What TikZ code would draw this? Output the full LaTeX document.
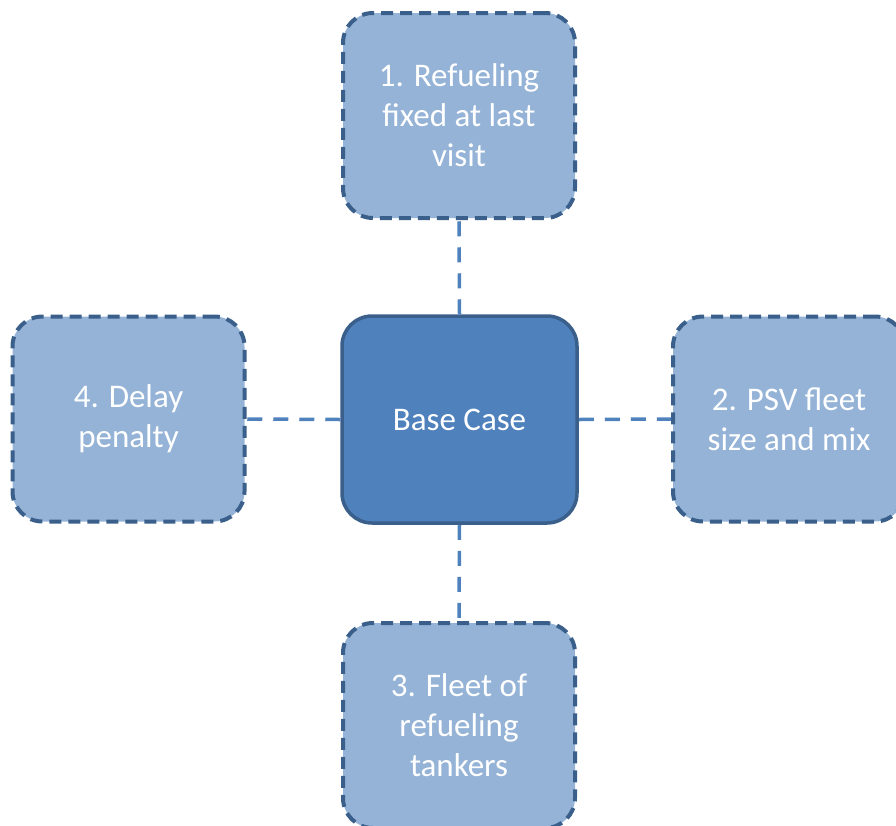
\documentclass[tikz,border=0pt]{standalone}
\usepackage{fontspec}
\setmainfont{Carlito}
\definecolor{scuro}{HTML}{3A5F8B}
\definecolor{medio}{HTML}{4F81BD}
\definecolor{chiaro}{HTML}{95B3D7}
\begin{document}
\begin{tikzpicture}[x=1pt,y=1pt,
        caso/.style={rounded corners=30pt, align=center, text=white, inner sep=0pt,
            font=\fontsize{33}{40}\selectfont},
        variante/.style={caso, fill=chiaro, draw=scuro, line width=4pt,
            dash pattern=on 12pt off 7pt, minimum width=232pt, minimum height=205pt},
        base/.style={caso, fill=medio, draw=scuro, line width=3.5pt,
            minimum width=235pt, minimum height=207pt},
        legame/.style={medio, line width=3.5pt, dash pattern=on 15pt off 11pt}]
        % Margini
        \useasboundingbox (0,0) rectangle (896,-825);
        
        % Caso base al centro
        \node[base] (basecase) at (459.5,-419.5) {Base Case};
        
        % Varianti attorno
        \node[variante] (refuel) at (459,-115.5) {1. Refueling\\fixed at last\\visit};
        \node[variante] (psv) at (789,-419) {2. PSV fleet\\size and mix};
        \node[variante] (tankers) at (459,-725.5) {3. Fleet of\\refueling\\tankers};
        \node[variante] (delay) at (128.5,-419) {4. Delay\\penalty};
        
        % Collegamenti tratteggiati
        \draw[legame] (basecase.north) -- (refuel.south);
        \draw[legame] (basecase.east) -- (psv.west);
        \draw[legame] (basecase.south) -- (tankers.north);
        \draw[legame] (basecase.west) -- (delay.east);
        
    \end{tikzpicture}
\end{document}
